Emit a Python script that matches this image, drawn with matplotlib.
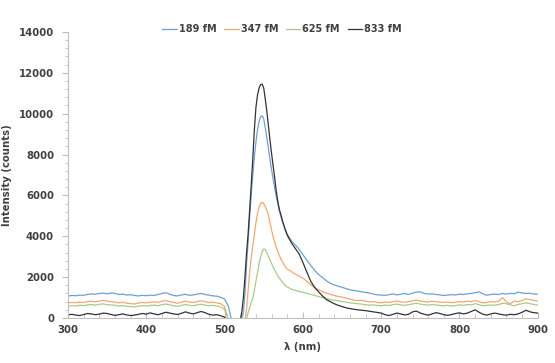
import numpy as np
import matplotlib
matplotlib.use('Agg')
import matplotlib.pyplot as plt
from matplotlib.ticker import MultipleLocator

# wavelength grid (nm): coarse on the baselines, finer across the peak
wl = np.concatenate([np.arange(300, 516, 5), np.arange(518, 581, 2), np.arange(585, 901, 5)])

labels = ['189 fM', '347 fM', '625 fM', '833 fM']
colors = ['#6f9fd8', '#f4a76e', '#a8cc88', '#333333']

fm189 = [1080, 1100, 1090, 1120, 1110, 1150, 1180, 1160, 1200, 1220, 1180, 1230, 1200, 1150, 1170,
         1120, 1140, 1100, 1080, 1110, 1090, 1120, 1100, 1150, 1200, 1240, 1160, 1100, 1080, 1130,
         1160, 1110, 1130, 1170, 1200, 1150, 1120, 1080, 1070, 1010, 930, 550, -300, -1500,
         -800, -400, -100, 300, 1200, 2600, 3700, 4900, 6000, 7000, 7900, 8600, 9200, 9600, 9850, 9900,
         9750, 9300, 8800, 8300, 7750, 7250, 6800, 6350, 5950, 5600, 5250, 4950, 4700, 4500, 4300, 4100,
         3800, 3580, 3380, 3100, 2830, 2580, 2330, 2130, 1980, 1820, 1700, 1620, 1560, 1500, 1440, 1380,
         1350, 1320, 1280, 1250, 1220, 1170, 1130, 1120, 1110, 1140, 1180, 1130, 1160, 1200, 1150, 1220,
         1260, 1280, 1200, 1170, 1180, 1150, 1130, 1100, 1120, 1140, 1130, 1170, 1150, 1180, 1200, 1240,
         1280, 1180, 1110, 1150, 1170, 1150, 1200, 1170, 1200, 1190, 1270, 1220, 1200, 1210, 1170, 1160]

fm347 = [740, 760, 750, 780, 760, 800, 820, 790, 830, 860, 820, 800, 780, 740, 770,
         720, 700, 690, 730, 760, 740, 770, 790, 760, 820, 860, 800, 760, 720, 780,
         820, 780, 760, 800, 840, 800, 760, 780, 740, 700, 560, -100, -900, -2000,
         -2000, -1400, -900, -500, -150, 400, 1300, 2250, 2950, 3550, 4100, 4650, 5100, 5420, 5600, 5660,
         5600, 5450, 5250, 5050, 4650, 4300, 3980, 3700, 3450, 3250, 3050, 2880, 2750, 2600, 2480, 2400,
         2280, 2150, 2060, 1950, 1800, 1630, 1480, 1380, 1290, 1210, 1160, 1100, 1060, 1020, 970, 920,
         880, 850, 870, 820, 790, 800, 760, 740, 780, 760, 800, 840, 790, 770, 800, 840,
         880, 830, 800, 780, 820, 800, 770, 760, 780, 750, 770, 800, 780, 820, 800, 860,
         800, 740, 760, 800, 780, 820, 1000, 780, 700, 830, 800, 850, 940, 900, 860, 820]

fm625 = [580, 600, 590, 620, 610, 640, 660, 630, 670, 690, 650, 640, 620, 590, 610,
         570, 560, 540, 580, 600, 590, 610, 630, 600, 650, 680, 640, 600, 570, 620,
         660, 620, 600, 640, 670, 630, 600, 620, 580, 540, 420, -150, -900, -2000,
         -2200, -1700, -1200, -800, -400, -50, 250, 500, 750, 950, 1350, 1800, 2200, 2650, 3000, 3250,
         3380, 3350, 3200, 3000, 2830, 2650, 2500, 2350, 2200, 2050, 1950, 1850, 1750, 1650, 1580, 1520,
         1420, 1350, 1300, 1250, 1210, 1160, 1100, 1050, 1000, 950, 900, 870, 840, 800, 780, 740,
         720, 700, 680, 650, 630, 640, 610, 600, 630, 610, 650, 680, 640, 620, 650, 690,
         720, 680, 650, 630, 660, 640, 610, 600, 620, 590, 610, 640, 620, 660, 640, 700,
         650, 600, 620, 640, 620, 660, 720, 700, 640, 600, 660, 700, 740, 700, 660, 630]

fm833 = [150, 180, 140, 120, 170, 220, 200, 160, 190, 240, 220, 170, 130, 160, 200,
         150, 120, 140, 180, 220, 190, 250, 200, 160, 220, 280, 240, 200, 170, 230,
         300, 240, 200, 260, 320, 260, 180, 140, 160, 110, 40, -400, -1200, -1000,
         -500, -150, 300, 1000, 2000, 3150, 4100, 5300, 6500, 7800, 9200, 10300, 10900, 11250, 11420, 11450,
         11250, 10700, 10100, 9400, 8700, 8050, 7450, 6850, 6200, 5700, 5300, 5050, 4750, 4500, 4250, 4050,
         3700, 3420, 3150, 2720, 2250, 1800, 1500, 1280, 1080, 900, 800, 700, 620, 560, 500, 460,
         430, 400, 380, 360, 330, 300, 270, 240, 160, 120, 180, 240, 200, 150, 180, 300,
         340, 240, 180, 140, 200, 260, 220, 160, 130, 170, 220, 250, 200, 240, 320, 400,
         280, 180, 140, 200, 240, 200, 160, 140, 180, 160, 200, 280, 380, 300, 260, 240]

series = [fm189, fm347, fm625, fm833]

plt.rc('font', family='DejaVu Sans', size=7.3, weight='bold')
fig = plt.figure(figsize=(5.55, 3.63), dpi=100)
ax = fig.add_axes([0.1225, 0.124, 0.8465, 0.788])

for vals, lab, c in zip(series, labels, colors):
    ax.plot(wl, vals, color=c, lw=0.9, label=lab)

ax.set_xlim(300, 900)
ax.set_ylim(0, 14000)
ax.xaxis.set_major_locator(MultipleLocator(100))
ax.xaxis.set_minor_locator(MultipleLocator(20))
ax.yaxis.set_major_locator(MultipleLocator(2000))
ax.yaxis.set_minor_locator(MultipleLocator(400))

for s in ['top', 'right']:
    ax.spines[s].set_visible(False)
ax.spines['left'].set_color('#bfbfbf')
ax.spines['bottom'].set_color('#bfbfbf')
ax.tick_params(axis='y', which='major', direction='out', length=4, color='#bfbfbf',
               labelcolor='#404040', pad=6)
ax.tick_params(axis='y', which='minor', direction='out', length=2.5, color='#bfbfbf')
ax.tick_params(axis='x', which='major', direction='in', length=4, color='#bfbfbf',
               labelcolor='#404040', pad=5)
ax.tick_params(axis='x', which='minor', direction='in', length=3, color='#bfbfbf')

ax.set_xlabel('λ (nm)', color='#404040', fontweight='bold', labelpad=5)
ax.set_ylabel('Intensity (counts)', color='#404040', fontweight='bold', labelpad=5)

fig.legend(loc='center', bbox_to_anchor=(0.508, 0.92), ncol=4, frameon=False, fontsize=7,
           handlelength=1.5, handletextpad=0.2, columnspacing=0.8, labelcolor='#404040')

fig.savefig('out.png', dpi=100)
